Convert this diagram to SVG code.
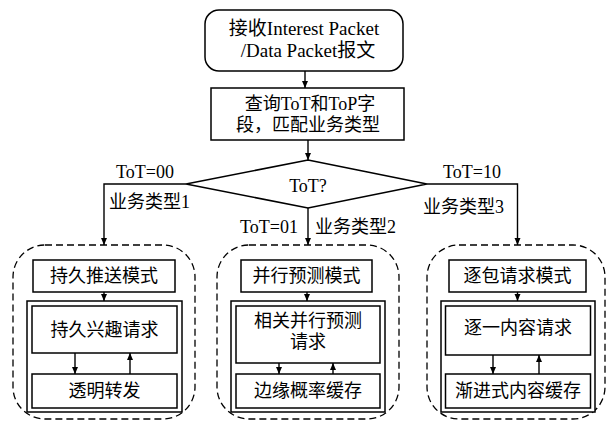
<svg xmlns="http://www.w3.org/2000/svg" width="607" height="421" viewBox="0 0 607 421">
<defs>
<marker id="ah" markerWidth="8" markerHeight="8" refX="7" refY="4" orient="auto" markerUnits="userSpaceOnUse">
<path d="M0,1 L7,4 L0,7 Z" fill="#000"/>
</marker>
<style>
.box{fill:#fff;stroke:#000;stroke-width:1.5}
.dash{fill:none;stroke:#000;stroke-width:1.3;stroke-dasharray:7 4}
.ln{fill:none;stroke:#000;stroke-width:1.4}
.ar{fill:none;stroke:#000;stroke-width:1.4;marker-end:url(#ah)}
text{font-family:"Liberation Serif","Noto Sans CJK SC",serif;font-size:18px;fill:#000}
.c{text-anchor:middle}
.big{font-size:19px}
</style>
</defs>
<rect width="607" height="421" fill="#fff"/>

<g id="start">
<rect class="box" x="205" y="10" width="198" height="61" rx="14"/>
<text class="c big" x="304" y="35">接收Interest Packet</text>
<text class="c big" x="308" y="57">/Data Packet报文</text>
</g>

<g id="query">
<rect class="box" x="211" y="88" width="193" height="52"/>
<text class="c" x="310" y="110">查询ToT和ToP字</text>
<text class="c" x="308" y="131">段，匹配业务类型</text>
</g>

<g id="decision">
<polygon class="box" points="308,160 427,184 308,208 186,184"/>
<text class="c" x="308" y="192">ToT?</text>
</g>

<g id="group1">
<rect class="dash" x="13" y="245" width="182" height="174" rx="32"/>
<rect class="box" x="33" y="260" width="142" height="32"/>
<text class="c" x="104" y="282">持久推送模式</text>
<rect class="box" x="27" y="301" width="155" height="111"/>
<rect class="box" x="32" y="306" width="145" height="47"/>
<text class="c" x="104.5" y="336">持久兴趣请求</text>
<rect class="box" x="32" y="374" width="145" height="34"/>
<text class="c" x="104.5" y="397">透明转发</text>
</g>

<g id="group2">
<rect class="dash" x="217" y="245" width="182" height="174" rx="32"/>
<rect class="box" x="241" y="260" width="131" height="32"/>
<text class="c" x="306.5" y="282">并行预测模式</text>
<rect class="box" x="231" y="301" width="154" height="111"/>
<rect class="box" x="236" y="306" width="144" height="57"/>
<text class="c" x="308" y="327">相关并行预测</text>
<text class="c" x="308" y="348">请求</text>
<rect class="box" x="236" y="374" width="144" height="34"/>
<text class="c" x="308" y="397">边缘概率缓存</text>
</g>

<g id="group3">
<rect class="dash" x="427" y="245" width="178" height="174" rx="32"/>
<rect class="box" x="449" y="260" width="137" height="32"/>
<text class="c" x="517.5" y="282">逐包请求模式</text>
<rect class="box" x="441" y="301" width="154" height="111"/>
<rect class="box" x="445.5" y="306" width="145" height="49"/>
<text class="c" x="518" y="334">逐一内容请求</text>
<rect class="box" x="445.5" y="374" width="145" height="34"/>
<text class="c" x="518" y="397">渐进式内容缓存</text>
</g>

<g id="connectors">
<line class="ar" x1="305" y1="71" x2="305" y2="88"/>
<line class="ar" x1="308" y1="140" x2="308" y2="160"/>
<polyline class="ar" points="186,184 104,184 104,245"/>
<line class="ar" x1="308" y1="208" x2="308" y2="245"/>
<polyline class="ar" points="427,184 517.5,184 517.5,245"/>
<line class="ar" x1="104" y1="292" x2="104" y2="301"/>
<line class="ar" x1="307" y1="292" x2="307" y2="301"/>
<line class="ar" x1="517.5" y1="292" x2="517.5" y2="301"/>
<line class="ar" x1="75" y1="353" x2="75" y2="374"/>
<line class="ar" x1="130" y1="374" x2="130" y2="353"/>
<line class="ar" x1="279" y1="363" x2="279" y2="374"/>
<line class="ar" x1="333" y1="374" x2="333" y2="363"/>
<line class="ar" x1="493" y1="355" x2="493" y2="374"/>
<line class="ar" x1="539" y1="374" x2="539" y2="355"/>
</g>

<g id="labels">
<text x="116" y="178">ToT=00</text>
<text x="109" y="208">业务类型1</text>
<text x="298" y="233" text-anchor="end">ToT=01</text>
<text x="315" y="233">业务类型2</text>
<text x="443" y="178">ToT=10</text>
<text x="423" y="213">业务类型3</text>
</g>
</svg>
